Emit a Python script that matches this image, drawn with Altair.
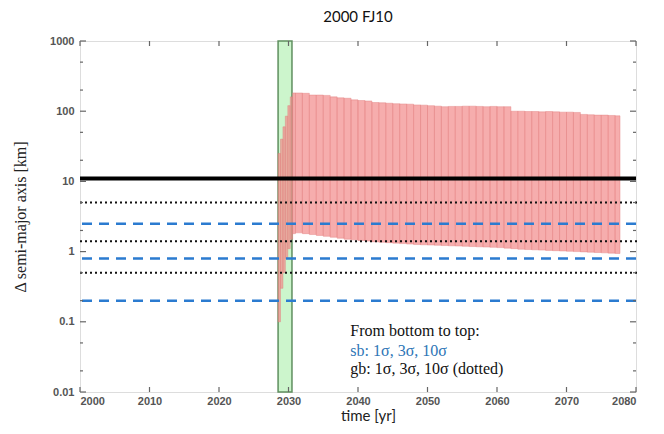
import altair as alt
import pandas as pd

# ---- data ----
# red band: start time of each strip, upper and lower envelope (km)
strip_t = [2028.5, 2028.85, 2029.2, 2029.55, 2029.9, 2030.25, 2030.6] + list(range(2031, 2078))
strip_hi = [25, 40, 60, 85, 120, 160, 182,
            182, 180, 170, 170, 168, 160, 155, 153, 145, 142,
            140, 133, 132, 130, 128, 127, 126, 123, 122, 120,
            118, 116, 117, 117, 118, 118, 117, 116, 117, 116,
            116, 100, 100, 99, 99, 98, 99, 98, 97, 97,
            96, 90, 89, 88, 88, 87, 86]
strip_lo = [0.1, 0.3, 0.5, 0.8, 1.1, 1.5, 1.8,
            1.85, 1.8, 1.75, 1.7, 1.65, 1.6, 1.55, 1.5, 1.47, 1.44,
            1.41, 1.38, 1.36, 1.34, 1.32, 1.3, 1.28, 1.26, 1.25, 1.24,
            1.23, 1.22, 1.21, 1.2, 1.19, 1.18, 1.17, 1.16, 1.15, 1.14,
            1.12, 1.1, 1.08, 1.07, 1.06, 1.05, 1.04, 1.03, 1.02, 1.01,
            1.0, 0.99, 0.98, 0.97, 0.96, 0.95, 0.94]
strip_end = 2077.7

# green (close approach) window
green_start, green_end = 2028.5, 2030.5

# reference levels
gb_levels = [0.5, 1.4, 5.0]      # dotted black
sb_levels = [0.2, 0.8, 2.5]      # dashed blue
main_level = [11.0]              # thick black

x_ticks = [2000, 2010, 2020, 2030, 2040, 2050, 2060, 2070, 2080]
y_major = [0.01, 0.1, 1, 10, 100, 1000]
y_minor = [0.02, 0.05, 0.2, 0.5, 2, 5, 20, 50, 200, 500]

notes = ["From bottom to top:", "sb: 1σ, 3σ, 10σ", "gb: 1σ, 3σ, 10σ (dotted)"]
note_colors = ["#111111", "#2e75b6", "#111111"]
note_y = [0.075, 0.039, 0.021]
note_x = 2038.9

W, H = 556, 351

strip_t2 = strip_t[1:] + [strip_end]
strips = pd.DataFrame({"t": strip_t, "t2": strip_t2, "hi": strip_hi, "lo": strip_lo})

xs = alt.Scale(domain=[2000, 2080], nice=False, zero=False)
ys = alt.Scale(type="log", domain=[0.01, 1000], nice=False)

x_axis = alt.Axis(values=x_ticks, format="d", ticks=False, domain=False, grid=False,
                  labelFont="Liberation Sans", labelFontSize=11, labelFontWeight="bold",
                  labelColor="#555555", labelPadding=3,
                  title="time [yr]", titleFont="Lato", titleFontSize=15,
                  titleFontWeight="normal", titleColor="#222222", titlePadding=2,
                  titleX=W / 2 + 10)
y_axis = alt.Axis(values=y_major, ticks=False, domain=False, grid=False,
                  labelExpr="datum.value < 1 ? format(datum.value, '.2~f') : format(datum.value, 'd')",
                  labelFont="Liberation Sans", labelFontSize=11, labelFontWeight="bold",
                  labelColor="#555555", labelPadding=6,
                  title="Δ semi-major axis [km]", titleFont="Liberation Serif", titleFontSize=16,
                  titleFontWeight="normal", titleColor="#222222", titlePadding=21)

green = alt.Chart(pd.DataFrame({"a": [green_start], "b": [green_end]})).mark_rect(
    fill="#ccf5cc", stroke="#5f8f5f", strokeWidth=1.5
).encode(
    x=alt.X("a:Q", scale=xs, axis=x_axis),
    x2="b:Q",
    y=alt.value(0), y2=alt.value(H),
)

red = alt.Chart(strips).mark_rect(
    fill="#f28a8a", fillOpacity=0.7, stroke="#e07a7a", strokeWidth=0.8, strokeOpacity=0.5
).encode(
    x=alt.X("t:Q", scale=xs),
    x2="t2:Q",
    y=alt.Y("lo:Q", scale=ys, axis=y_axis),
    y2="hi:Q",
)

thick = alt.Chart(pd.DataFrame({"v": main_level})).mark_rule(
    color="black", strokeWidth=4
).encode(y=alt.Y("v:Q", scale=ys), x=alt.value(0), x2=alt.value(W))

dotted = alt.Chart(pd.DataFrame({"v": gb_levels})).mark_rule(
    color="#111111", strokeWidth=2, strokeDash=[2, 3]
).encode(y=alt.Y("v:Q", scale=ys), x=alt.value(0), x2=alt.value(W + 2))

dashed = alt.Chart(pd.DataFrame({"v": sb_levels})).mark_rule(
    color="#2b7bd0", strokeWidth=2.5, strokeDash=[10, 7]
).encode(y=alt.Y("v:Q", scale=ys), x=alt.value(2), x2=alt.value(W))

# inward ticks
ymaj = pd.DataFrame({"v": y_major})
ymin = pd.DataFrame({"v": y_minor})
xt = pd.DataFrame({"v": x_ticks})
tick_style = dict(color="#666666", strokeWidth=1.2)
t_left = alt.Chart(ymaj).mark_rule(**tick_style).encode(
    y=alt.Y("v:Q", scale=ys), x=alt.value(0), x2=alt.value(6))
t_right = alt.Chart(ymaj).mark_rule(**tick_style).encode(
    y=alt.Y("v:Q", scale=ys), x=alt.value(W - 6), x2=alt.value(W))
tm_left = alt.Chart(ymin).mark_rule(**tick_style).encode(
    y=alt.Y("v:Q", scale=ys), x=alt.value(0), x2=alt.value(3))
tm_right = alt.Chart(ymin).mark_rule(**tick_style).encode(
    y=alt.Y("v:Q", scale=ys), x=alt.value(W - 3), x2=alt.value(W))
t_bot = alt.Chart(xt).mark_rule(**tick_style).encode(
    x=alt.X("v:Q", scale=xs), y=alt.value(H - 5), y2=alt.value(H))
t_top = alt.Chart(xt).mark_rule(**tick_style).encode(
    x=alt.X("v:Q", scale=xs), y=alt.value(0), y2=alt.value(5))

note_df = pd.DataFrame({"txt": notes, "c": note_colors, "y": note_y, "x": [note_x] * 3})
note = alt.Chart(note_df).mark_text(
    align="left", baseline="middle", font="Liberation Serif", fontSize=16
).encode(
    x=alt.X("x:Q", scale=xs), y=alt.Y("y:Q", scale=ys),
    text="txt:N", color=alt.Color("c:N", scale=None),
)

chart = alt.layer(
    green, red, thick, dotted, dashed,
    t_left, t_right, tm_left, tm_right, t_bot, t_top, note
).properties(
    width=W, height=H,
    title=alt.TitleParams("2000 FJ10", font="Lato", fontSize=15, fontWeight="normal",
                          color="#111111", anchor="middle", offset=10),
    autosize=alt.AutoSizeParams(type="none"),
    padding={"left": 72, "top": 33, "right": 20, "bottom": 34},
).configure_view(
    stroke="#7a7a7a", strokeWidth=1.5
).configure(background="white")

chart.save("out.html", embed_options={"renderer": "svg", "actions": False})
